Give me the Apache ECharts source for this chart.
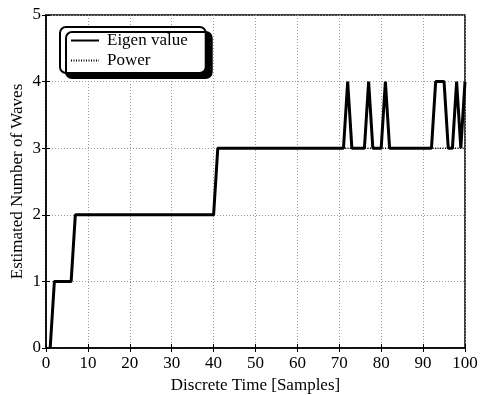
<!DOCTYPE html>
<html>
<head>
<meta charset="utf-8">
<script src="https://cdn.jsdelivr.net/npm/echarts@6/dist/echarts.min.js"></script>
<style>html,body{margin:0;padding:0;background:#fff;}#c{width:486px;height:395px;}</style>
</head>
<body>
<div id="c"></div>
<script>
const samples = Array.from({length: 100}, (_, i) => i + 1);
const eigenValue = [
  0,
  1,1,1,1,1,
  2,2,2,2,2,2,2,2,2,2, 2,2,2,2,2,2,2,2,2,2, 2,2,2,2,2,2,2,2,2,2, 2,2,2,2,
  3,3,3,3,3,3,3,3,3,3, 3,3,3,3,3,3,3,3,3,3, 3,3,3,3,3,3,3,3,3,3, 3,
  4,
  3,3,3,3,
  4,
  3,3,3,
  4,
  3,3,3,3,3,3,3,3,3,3,3,
  4,4,4,
  3,3,
  4,
  3,
  4
];
const power = [
  0,
  1,1,1,1,1,
  2,2,2,2,2,2,2,2,2,2, 2,2,2,2,2,2,2,2,2,2, 2,2,2,2,2,2,2,2,2,2, 2,2,2,2,
  3,3,3,3,3,3,3,3,3,3, 3,3,3,3,3,3,3,3,3,3, 3,3,3,3,3,3,3,3,3,3, 3,
  3,3,3,3,3,3,3,3,3,3, 3,3,3,3,3,3,3,3,3,3, 3,3,3,3,3,3,3,3,3
];
const xTicks = [0,10,20,30,40,50,60,70,80,90,100];
const yTicks = [0,1,2,3,4,5];
const seriesNames = ['Eigen value', 'Power'];

const font = 'Liberation Serif, Times New Roman, serif';
const chart = echarts.init(document.getElementById('c'), null, {renderer: 'canvas'});
const gridLine = {show: true, lineStyle: {color: '#999', type: [1, 2], width: 1}};
chart.setOption({
  animation: false,
  backgroundColor: '#fff',
  textStyle: {fontFamily: font},
  legend: {
    left: 60, top: 27,
    orient: 'vertical',
    data: seriesNames,
    backgroundColor: '#fff',
    borderColor: '#000', borderWidth: 2, borderRadius: 6,
    shadowColor: '#000', shadowBlur: 0, shadowOffsetX: 6, shadowOffsetY: 5,
    padding: [5, 18, 4, 10],
    itemGap: 3,
    itemWidth: 28, itemHeight: 14,
    itemStyle: {opacity: 0},
    textStyle: {fontFamily: font, fontSize: 17, color: '#000', padding: [0, 0, 0, 3]}
  },
  grid: {left: 46, right: 21, top: 15, bottom: 47, show: true, borderColor: '#000', borderWidth: 1.5,
         containLabel: false, outerBoundsMode: 'none'},
  xAxis: [{
    type: 'value', min: 0, max: 100, interval: 10,
    name: 'Discrete Time [Samples]', nameLocation: 'middle', nameGap: 28,
    nameTextStyle: {fontFamily: font, fontSize: 17, color: '#000'},
    axisLine: {show: true, lineStyle: {color: '#000', width: 1.5}},
    axisTick: {show: true, inside: true, length: 4, lineStyle: {color: '#000'}},
    axisLabel: {fontFamily: font, fontSize: 17, color: '#000', margin: 7},
    splitLine: gridLine
  }, {
    type: 'value', min: 0, max: 100, interval: 10, position: 'top',
    axisLine: {show: false},
    axisTick: {show: true, inside: true, length: 4, lineStyle: {color: '#000'}},
    axisLabel: {show: false}, splitLine: {show: false}
  }],
  yAxis: [{
    type: 'value', min: 0, max: 5, interval: 1,
    name: 'Estimated Number of Waves', nameLocation: 'middle', nameGap: 20,
    nameMoveOverlap: false,
    nameTextStyle: {fontFamily: font, fontSize: 17, color: '#000'},
    axisLine: {show: true, lineStyle: {color: '#000', width: 1.5}},
    axisTick: {show: true, inside: true, length: 4, lineStyle: {color: '#000'}},
    axisLabel: {fontFamily: font, fontSize: 17, color: '#000', margin: 5},
    splitLine: gridLine
  }, {
    type: 'value', min: 0, max: 5, interval: 1, position: 'right',
    axisLine: {show: false},
    axisTick: {show: true, inside: true, length: 4, lineStyle: {color: '#000'}},
    axisLabel: {show: false}, splitLine: {show: false}
  }],
  series: [{
    name: seriesNames[0], type: 'line', symbol: 'none',
    data: samples.map((s, i) => [s, eigenValue[i]]),
    lineStyle: {color: '#000', width: 3},
    itemStyle: {color: '#000'}
  }, {
    name: seriesNames[1], type: 'line', symbol: 'none',
    data: samples.map((s, i) => [s, power[i]]),
    lineStyle: {color: '#000', width: 1.5, type: [1, 1.5]},
    itemStyle: {color: '#000'}
  }]
});
</script>
</body>
</html>
